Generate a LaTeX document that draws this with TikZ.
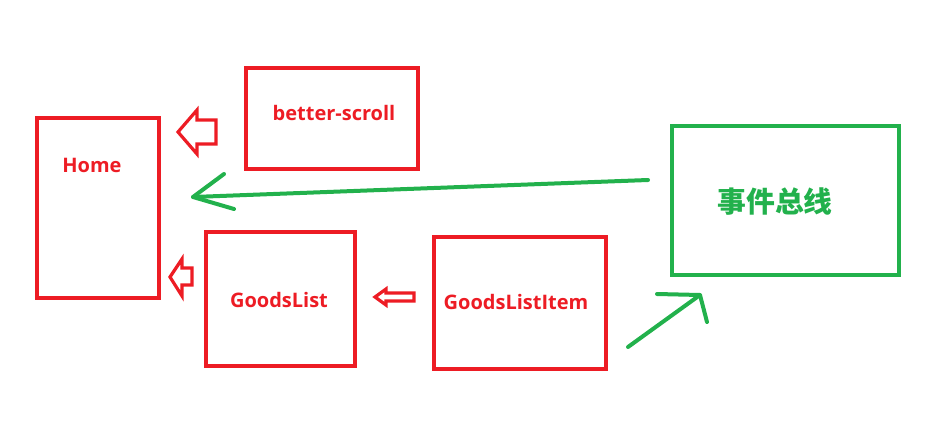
\documentclass[tikz,border=0pt]{standalone}
\usepackage{fontspec}
\setmainfont{Open Sans}
\newfontfamily\cjk{Noto Sans CJK SC}
\definecolor{pred}{HTML}{ED1C24}
\definecolor{pgreen}{HTML}{22B14C}
\tikzset{
  box/.style={draw=pred, line width=3.6pt, fill=none},
  lbl/.style={text=pred, font=\bfseries\fontsize{20}{24}\selectfont},
  hollow/.style={draw=pred, line width=3.2pt, line join=miter},
  garrow/.style={draw=pgreen, line width=4pt, line cap=round, line join=round},
}
\begin{document}
\begin{tikzpicture}[x=1pt,y=-1pt]
\useasboundingbox (0,0) rectangle (935,423);
% boxes
\draw[box] (37,118) rectangle (159,298);
\draw[box] (246,68) rectangle (418,169);
\draw[box] (206,232) rectangle (355,366);
\draw[box] (434,237) rectangle (606,369);
\draw[box, draw=pgreen] (672,126) rectangle (899,275);
% labels
\node[lbl] (home) at (92,165) {Home};
\node[lbl] (bs) at (334,113) {better-scroll};
\node[lbl] (gl) at (279,300) {GoodsList};
\node[lbl] (gli) at (516,302) {GoodsListItem};
\node[text=pgreen, font=\cjk\bfseries\fontsize{28.8}{32}\selectfont] (bus) at (775,202) {事件总线};
% hollow arrows
\draw[hollow] (178,132) -- (197,110) -- (197,120) -- (216,120) -- (216,144) -- (197,144) -- (197,154) -- cycle;
\draw[hollow] (170,277) -- (182,259) -- (182,268) -- (192,268) -- (192,285) -- (182,285) -- (182,296) -- cycle;
\draw[hollow] (375,297) -- (386,289) -- (386,293) -- (414,293) -- (414,301) -- (386,301) -- (386,305) -- cycle;
% green arrows
\coordinate (t1) at (193,197);
\coordinate (s1) at (648,180);
\draw[garrow] (s1) -- (t1);
\draw[garrow] (224,174) -- (t1) -- (234,209);
\coordinate (t2) at (700,295);
\coordinate (s2) at (628,347);
\draw[garrow] (s2) -- (t2);
\draw[garrow] (657,294) -- (t2) -- (707,322);
\end{tikzpicture}
\end{document}
